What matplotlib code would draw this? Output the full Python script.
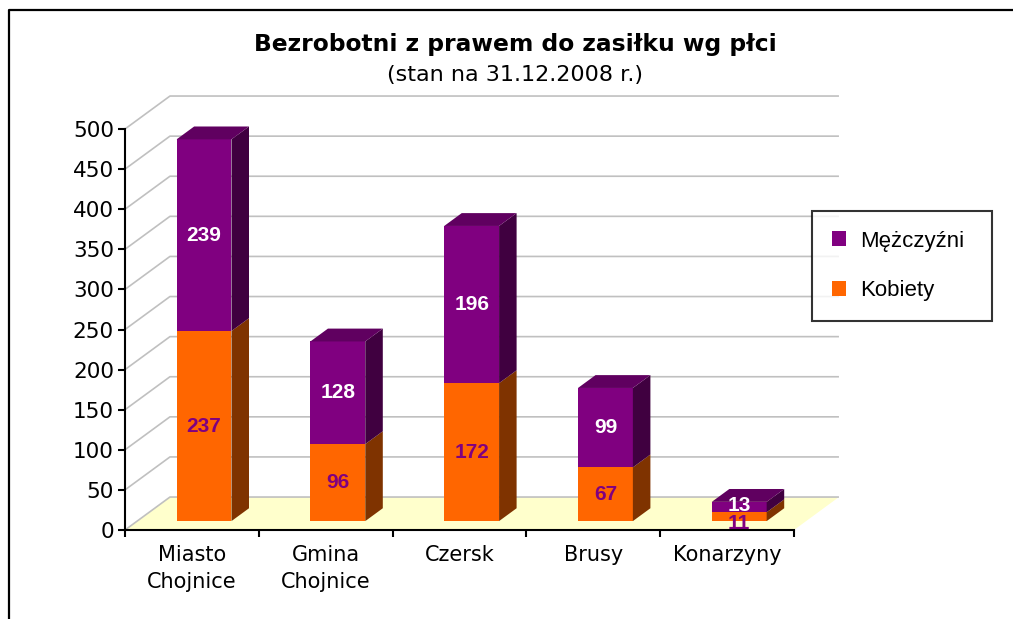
import matplotlib
matplotlib.use("Agg")
import matplotlib.pyplot as plt
from matplotlib.patches import Polygon, Patch
from matplotlib.lines import Line2D

# data
categories = ["Miasto\nChojnice", "Gmina\nChojnice", "Czersk", "Brusy", "Konarzyny"]
kobiety = [237, 96, 172, 67, 11]
mezczyzni = [239, 128, 196, 99, 13]
yticks = list(range(0, 501, 50))

# pseudo-3D geometry (in data units)
KX, KY = 0.336, 41.1      # offset of a full unit of depth
D0, D1 = 0.27, 0.66       # bar depth span
BW = 0.41                 # bar width

FRONT_K, SIDE_K, TOP_K = "#FF6600", "#7F3300", "#C05000"
FRONT_M, SIDE_M, TOP_M = "#800080", "#400040", "#600060"

W, H = 1013, 619
fig = plt.figure(figsize=(W / 100, H / 100), dpi=100)
ax = fig.add_axes([125 / W, (H - 530) / H, 669 / W, 401 / H])
ax.set_xlim(0, len(categories))
ax.set_ylim(0, 500)


def p(x, y, d):
    return (x + d * KX, y + d * KY)


def box(x0, x1, y0, y1, front, side, top, z):
    ax.add_patch(Polygon([p(x0, y0, D0), p(x1, y0, D0), p(x1, y1, D0), p(x0, y1, D0)],
                         closed=True, fc=front, ec="none", zorder=z, clip_on=False))
    ax.add_patch(Polygon([p(x1, y0, D0), p(x1, y0, D1), p(x1, y1, D1), p(x1, y1, D0)],
                         closed=True, fc=side, ec="none", zorder=z, clip_on=False))
    if top:
        ax.add_patch(Polygon([p(x0, y1, D0), p(x1, y1, D0), p(x1, y1, D1), p(x0, y1, D1)],
                             closed=True, fc=top, ec="none", zorder=z, clip_on=False))


n = len(categories)
# floor
ax.add_patch(Polygon([p(0, 0, 0), p(n, 0, 0), p(n, 0, 1), p(0, 0, 1)],
                     closed=True, fc="#FFFFCC", ec="none", zorder=1, clip_on=False))
# gridlines: back wall + side wall
for v in yticks:
    a, b, c = p(0, v, 0), p(0, v, 1), p(n, v, 1)
    ax.plot([a[0], b[0], c[0]], [a[1], b[1], c[1]], color="#C0C0C0", lw=1.2,
            zorder=2, clip_on=False, solid_capstyle="butt")

# bars
for i, (k, m) in enumerate(zip(kobiety, mezczyzni)):
    x0 = i + 0.5 - BW / 2
    x1 = i + 0.5 + BW / 2
    box(x0, x1, 0, k, FRONT_K, SIDE_K, None, 3 + i)
    box(x0, x1, k, k + m, FRONT_M, SIDE_M, TOP_M, 3 + i)
    cx = i + 0.5 + D0 * KX
    lab_k = k / 2 + D0 * KY
    lab_m = k + m / 2 + D0 * KY
    if k < 30:
        lab_k -= 8
        lab_m += 2
    ax.text(cx, lab_k, str(k), ha="center", va="center", color=FRONT_M,
            fontsize=15, fontweight="bold", family="Liberation Sans", zorder=20)
    ax.text(cx, lab_m, str(m), ha="center", va="center", color="white",
            fontsize=15, fontweight="bold", family="Liberation Sans", zorder=20)

# axes styling
for s in ["top", "right"]:
    ax.spines[s].set_visible(False)
for s in ["left", "bottom"]:
    ax.spines[s].set_linewidth(1.5)
    ax.spines[s].set_zorder(30)
ax.set_yticks(yticks)
ax.tick_params(axis="y", length=5, width=1.5, labelsize=15.5, pad=3)
ax.set_xticks(range(n + 1))
ax.set_xticklabels([])
ax.set_xticks([i + 0.5 for i in range(n)], minor=True)
ax.set_xticklabels(categories, minor=True, fontsize=15, linespacing=1.42)
ax.tick_params(axis="x", which="major", length=5, width=1.5)
ax.tick_params(axis="x", which="minor", length=0, pad=11)
ax.set_facecolor("none")

# title
fig.text(515 / W, 1 - 45 / H, "Bezrobotni z prawem do zasiłku wg płci",
         ha="center", va="center", fontsize=16.8, fontweight="bold")
fig.text(515 / W, 1 - 75 / H, "(stan na 31.12.2008 r.)",
         ha="center", va="center", fontsize=16)

# legend
handles = [Patch(fc=FRONT_M, ec="none"), Patch(fc=FRONT_K, ec="none")]
leg = fig.legend(handles, ["Mężczyźni", "Kobiety"], loc="center", mode="expand",
                 bbox_to_anchor=(812 / W, 1 - 317 / H, 180 / W, 102 / H),
                 frameon=True, fancybox=False,
                 edgecolor="black", handlelength=0.65, handleheight=0.65,
                 labelspacing=1.3, borderpad=0.9, handletextpad=0.6,
                 borderaxespad=0,
                 prop={"family": "Liberation Sans", "size": 16})
leg.get_frame().set_linewidth(1.5)

# outer border
fig.add_artist(Line2D([9 / W, 9 / W, 1], [0, 1 - 10 / H, 1 - 10 / H],
                      color="black", lw=1.6))

fig.savefig("out.png", dpi=100)
